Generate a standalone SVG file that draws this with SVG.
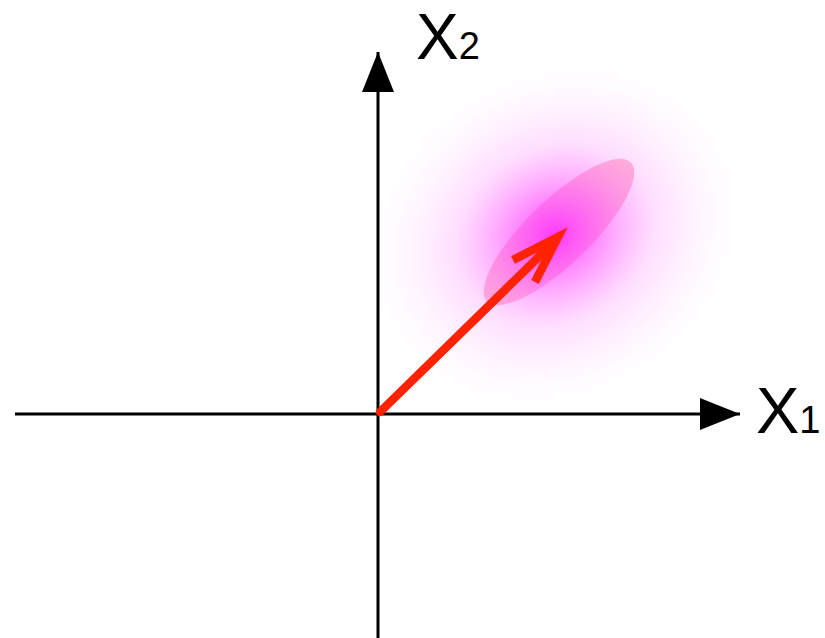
<svg xmlns="http://www.w3.org/2000/svg" width="825" height="638" viewBox="0 0 825 638">
<defs>
<radialGradient id="glow" cx="0.5" cy="0.5" r="0.5">
<stop offset="0" stop-color="#ff33ff" stop-opacity="0.95"/>
<stop offset="0.25" stop-color="#ff55ff" stop-opacity="0.6"/>
<stop offset="0.5" stop-color="#ff88ff" stop-opacity="0.28"/>
<stop offset="0.8" stop-color="#ffbbff" stop-opacity="0.08"/>
<stop offset="1" stop-color="#ffffff" stop-opacity="0"/>
</radialGradient>
<marker id="ah" viewBox="0 0 40 32" refX="40" refY="16" markerWidth="40" markerHeight="32" markerUnits="userSpaceOnUse" orient="auto">
<path d="M0,0 L40,16 L0,32 Z" fill="#000"/>
</marker>
<style>
.axis{stroke:#000;stroke-width:3;fill:none}
.lbl{font-family:"Liberation Sans",Arial,sans-serif;fill:#000}
</style>
</defs>
<g id="distribution">
<ellipse cx="559" cy="232" rx="100" ry="32" transform="rotate(-44 559 232)" fill="#ffb0c8" fill-opacity="0.9"/>
<ellipse cx="555" cy="235" rx="205" ry="175" transform="rotate(-30 555 235)" fill="url(#glow)"/>
</g>
<g id="connectors">
<line class="axis" x1="15" y1="414" x2="740" y2="414" marker-end="url(#ah)"/>
<line class="axis" x1="378" y1="638" x2="378" y2="52" marker-end="url(#ah)"/>
<line x1="380" y1="412" x2="556" y2="240" stroke="#ff2200" stroke-width="8.5" stroke-linecap="round"/>
<path d="M513,260 L558,237 L535,282" stroke="#ff2200" stroke-width="8.5" fill="none" stroke-linejoin="miter" stroke-miterlimit="10"/>
</g>
<g id="label-x2">
<text class="lbl" x="416" y="59" font-size="64">X<tspan font-size="38">2</tspan></text>
</g>
<g id="label-x1">
<text class="lbl" x="756" y="433" font-size="65">X<tspan font-size="38">1</tspan></text>
</g>
</svg>
